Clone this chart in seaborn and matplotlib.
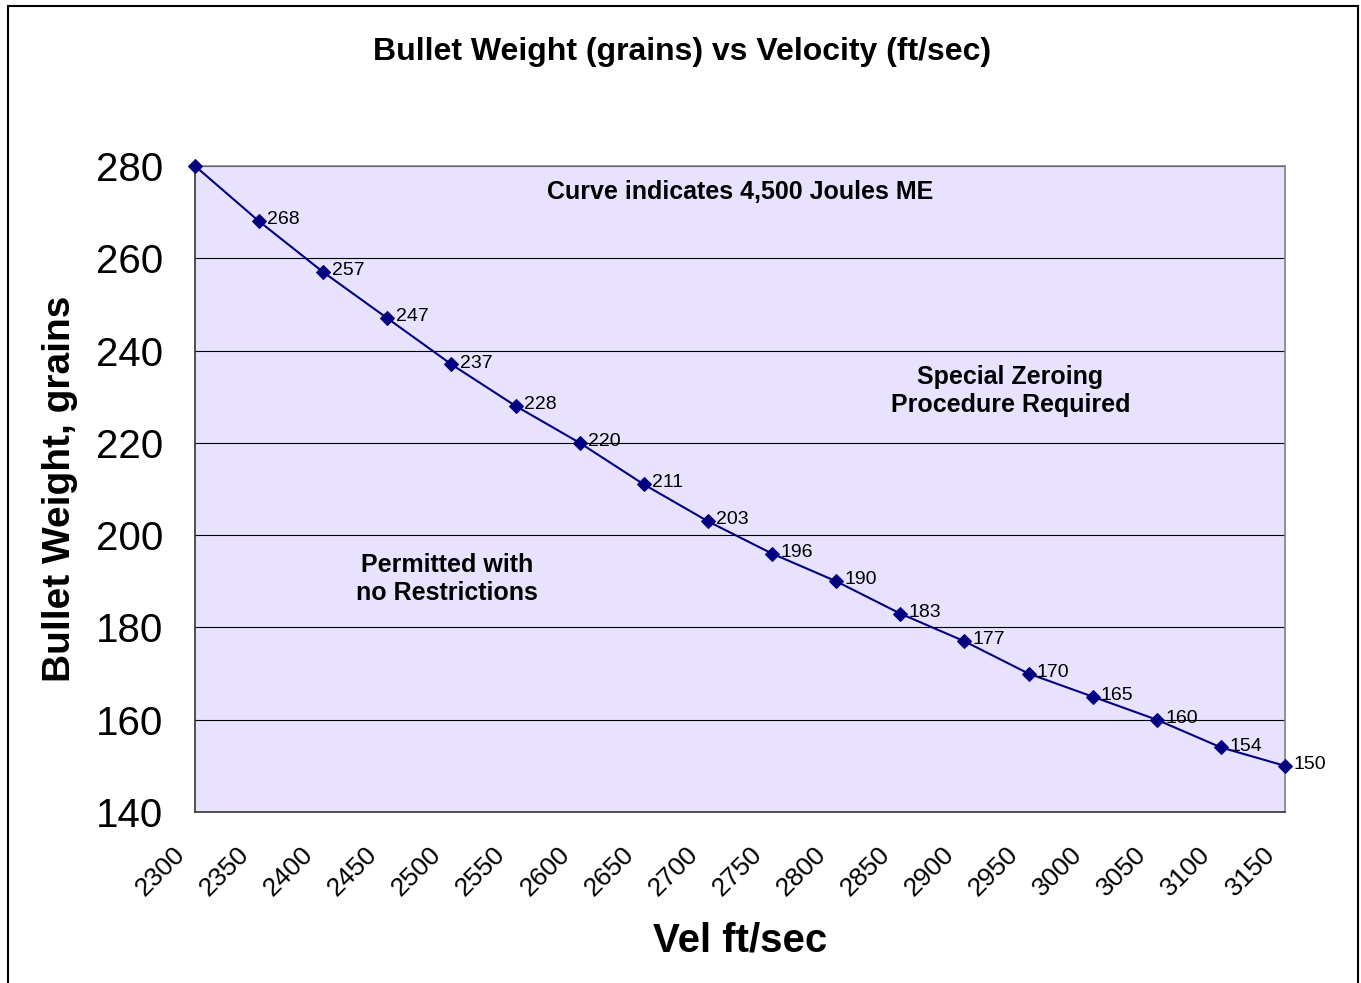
import matplotlib
matplotlib.use("Agg")
import matplotlib.pyplot as plt
import matplotlib.transforms as mtransforms
import seaborn as sns
import pandas as pd
from matplotlib.patches import Rectangle

# data
velocity = [2300, 2350, 2400, 2450, 2500, 2550, 2600, 2650, 2700,
            2750, 2800, 2850, 2900, 2950, 3000, 3050, 3100, 3150]
weight = [280, 268, 257, 247, 237, 228, 220, 211, 203,
          196, 190, 183, 177, 170, 165, 160, 154, 150]
y_ticks = [140, 160, 180, 200, 220, 240, 260, 280]

df = pd.DataFrame({"velocity": velocity, "weight": weight})

sns.set_style("white")
plt.rcParams["font.family"] = ["Liberation Sans", "DejaVu Sans"]
plt.rcParams["text.color"] = "black"
plt.rcParams["axes.labelcolor"] = "black"
plt.rcParams["xtick.color"] = "black"
plt.rcParams["ytick.color"] = "black"

fig = plt.figure(figsize=(13.61, 9.83), dpi=100)
ax = fig.add_axes([195 / 1361, 171 / 983, 1090 / 1361, 646 / 983])
ax.set_facecolor("#E8E2FE")

sns.lineplot(data=df, x="velocity", y="weight", ax=ax, color="#000080",
             marker="D", markersize=7.5, markeredgecolor="#000080",
             linewidth=1.5, zorder=3, clip_on=False)

# data labels (first point has none)
for v, w in zip(velocity[1:], weight[1:]):
    ax.annotate(str(w), (v, w), xytext=(6, 1), textcoords="offset points",
                fontsize=14, ha="left", va="center", color="black")

ax.set_xlim(velocity[0], velocity[-1])
ax.set_ylim(y_ticks[0], y_ticks[-1])
ax.set_xticks(velocity)
ax.set_yticks(y_ticks)
ax.set_xticklabels([str(v) for v in velocity], rotation=45, ha="right",
                   va="center", rotation_mode="anchor", fontsize=19)
ax.set_yticklabels([str(t) for t in y_ticks], fontsize=29)
ax.tick_params(axis="x", direction="out", length=7, width=1, pad=8)
ax.tick_params(axis="y", direction="out", length=9, width=1, pad=14)
shift = mtransforms.ScaledTranslation(-14 / 100, -18 / 100, fig.dpi_scale_trans)
for lab in ax.get_xticklabels():
    lab.set_transform(lab.get_transform() + shift)
ax.grid(axis="y", color="black", linewidth=0.8)
ax.set_axisbelow(True)

for side in ["left", "bottom"]:
    ax.spines[side].set_color("#333333")
    ax.spines[side].set_linewidth(1.2)
for side in ["top", "right"]:
    ax.spines[side].set_color("#808080")
    ax.spines[side].set_linewidth(1.2)

ax.set_xlabel("Vel ft/sec", fontsize=29, fontweight="bold", va="center")
ax.set_ylabel("Bullet Weight, grains", fontsize=28, fontweight="bold", va="center")
ax.xaxis.set_label_coords(0.5, (812 - 940) / 646)
ax.yaxis.set_label_coords((60 - 195) / 1090, 0.5)

fig.text(682 / 1361, 1 - 52 / 983, "Bullet Weight (grains) vs Velocity (ft/sec)",
         ha="center", va="center", fontsize=23, fontweight="bold")

ax.text(0.5, 0.96, "Curve indicates 4,500 Joules ME", transform=ax.transAxes,
        ha="center", va="center", fontsize=18, fontweight="bold")
ax.text(0.748, 0.652, "Special Zeroing\nProcedure Required", transform=ax.transAxes,
        ha="center", va="center", fontsize=18, fontweight="bold", linespacing=1.2)
ax.text(0.231, 0.361, "Permitted with\nno Restrictions", transform=ax.transAxes,
        ha="center", va="center", fontsize=18, fontweight="bold", linespacing=1.2)

# outer chart border
fig.patches.append(Rectangle((8 / 1361, -0.05), 1350 / 1361, 1.05 - 6 / 983,
                             transform=fig.transFigure, fill=False,
                             edgecolor="black", linewidth=1.5))

fig.savefig("out.png", dpi=100)
